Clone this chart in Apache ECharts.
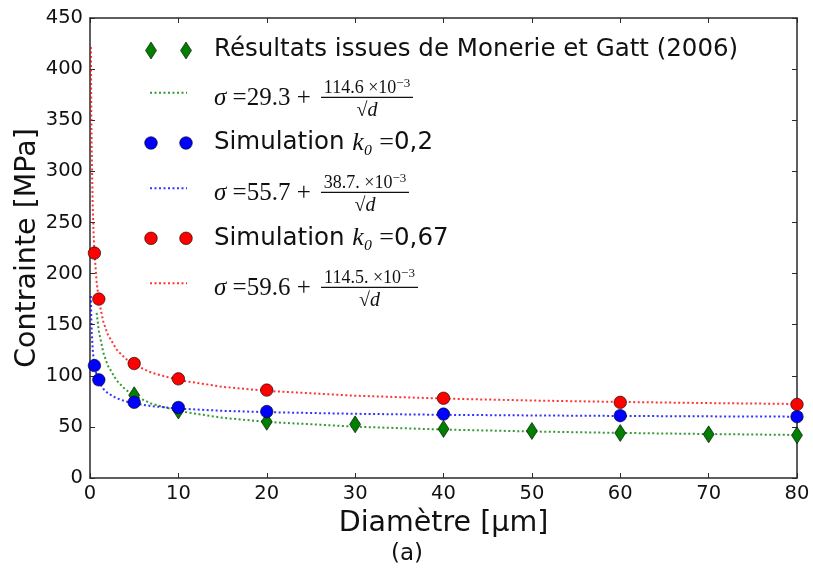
<!DOCTYPE html>
<html>
<head>
<meta charset="utf-8">
<script src="https://cdn.jsdelivr.net/npm/echarts@6/dist/echarts.min.js"></script>
<style>
html,body{margin:0;padding:0;background:#fff;}
#chart{width:813px;height:583px;}
</style>
</head>
<body>
<div id="chart"></div>
<script>
// ---- data ----
var xTicks = [0, 10, 20, 30, 40, 50, 60, 70, 80];
var yTicks = [0, 50, 100, 150, 200, 250, 300, 350, 400, 450];

// Monerie et Gatt (2006) results
var monerieD = [5, 10, 20, 30, 40, 50, 60, 70, 80];
var monerieS = [81, 66, 55, 52.5, 48, 46, 44, 42.7, 41.8];

// Simulation k0 = 0,2
var simBlueD = [0.5, 1, 5, 10, 20, 40, 60, 80];
var simBlueS = [110, 96, 74, 69, 65, 62.5, 61, 60];

// Simulation k0 = 0,67
var simRedD = [0.5, 1, 5, 10, 20, 40, 60, 80];
var simRedS = [220, 175, 112, 97, 86, 78, 74, 72];

// fitted curves (dotted)
var fitD      = [0.1, 0.15, 0.2, 0.3, 0.4, 0.5, 0.75, 1, 1.5, 2, 3, 4, 5, 7, 10, 15, 20, 30, 40, 50, 60, 70, 80];
var fitRedS   = [421.7, 355.2, 315.6, 268.7, 240.6, 221.5, 191.8, 174.1, 153.1, 140.6, 125.7, 116.9, 110.8, 102.9, 95.8, 89.2, 85.2, 80.5, 77.7, 75.8, 74.4, 73.3, 72.4];
var fitBlueS  = [178.1, 155.6, 142.2, 126.4, 116.9, 110.4, 100.4, 94.4, 87.3, 83.1, 78.0, 75.1, 73.0, 70.3, 67.9, 65.7, 64.4, 62.8, 61.8, 61.2, 60.7, 60.3, 60.0];
var fitGreenD = [0.75, 1, 1.5, 2, 3, 4, 5, 7, 10, 15, 20, 30, 40, 50, 60, 70, 80];
var fitGreenS = [161.6, 143.9, 122.9, 110.3, 95.5, 86.6, 80.5, 72.6, 65.5, 58.9, 54.9, 50.2, 47.4, 45.5, 44.1, 43.0, 42.1];

var legendLabels = {
  monerie: 'Résultats issues de Monerie et Gatt (2006)',
  green: ['29.3', '114.6', '114.6 ×10'],
  blue:  ['55.7', '38.7.', '38.7. ×10'],
  red:   ['59.6', '114.5.', '114.5. ×10'],
  simBlue: '0,2',
  simRed: '0,67'
};

function pairs(xs, ys) { return xs.map(function (x, i) { return [x, ys[i]]; }); }

var GREEN = '#007f00', BLUE = '#0000ff', RED = '#ff0000';
var DOT = [2, 2.5];

var chart = echarts.init(document.getElementById('chart'), null, {renderer: 'canvas'});

var axisLine = {show: true, onZero: false, lineStyle: {color: '#2a2a2a', width: 1.5}};
var tick = {show: true, inside: true, length: 5, lineStyle: {color: '#2a2a2a', width: 1}};
var lblStyle = {fontFamily: 'DejaVu Sans', fontSize: 19.5, color: '#111'};

// ---- legend drawn with graphic elements ----
var LX1 = 151, LX2 = 186, TX = 214;
var serif = 'Liberation Serif';
function markerRow(y, kind, color) {
  var out = [];
  [LX1, LX2].forEach(function (x) {
    if (kind === 'diamond') {
      out.push({type: 'polygon', shape: {points: [[x, y - 8.5], [x + 5.5, y], [x, y + 8.5], [x - 5.5, y]]},
        style: {fill: color, stroke: '#000', lineWidth: 0.6}});
    } else {
      out.push({type: 'circle', shape: {cx: x, cy: y, r: 6.3}, style: {fill: color, stroke: '#000', lineWidth: 0.6}});
    }
  });
  return out;
}
function lineRow(y, color) {
  return [{type: 'line', shape: {x1: LX1 - 1, y1: y, x2: LX2 + 1, y2: y},
    style: {stroke: color, lineWidth: 2, lineDash: DOT, opacity: 0.8}}];
}
function formulaRow(bar, a, num, barEnd) {
  var items = [];
  items.push({type: 'text', x: TX, y: bar + 1, style: {
    text: '{i|σ}{r| =' + a + ' +}', verticalAlign: 'middle', align: 'left',
    rich: {i: {fontFamily: serif, fontStyle: 'italic', fontSize: 25, fill: '#111'},
           r: {fontFamily: serif, fontSize: 25, fill: '#111'}}}});
  var cx = (321 + barEnd) / 2;
  items.push({type: 'text', x: cx, y: bar - 10, style: {
    text: '{n|' + num + '}{s|−3}', align: 'center', verticalAlign: 'middle',
    rich: {n: {fontFamily: serif, fontSize: 18, fill: '#111', verticalAlign: 'bottom', lineHeight: 20},
           s: {fontFamily: serif, fontSize: 13, fill: '#111', verticalAlign: 'top', lineHeight: 20}}}});
  items.push({type: 'line', shape: {x1: 321, y1: bar, x2: barEnd, y2: bar}, style: {stroke: '#111', lineWidth: 1.2}});
  items.push({type: 'text', x: cx, y: bar + 13, style: {
    text: '{r|√}{i|d}', align: 'center', verticalAlign: 'middle',
    rich: {r: {fontFamily: serif, fontSize: 20, fill: '#111'},
           i: {fontFamily: serif, fontStyle: 'italic', fontSize: 20, fill: '#111'}}}});
  return items;
}
function simText(y, val) {
  return [{type: 'text', x: TX, y: y, style: {
    text: '{s|Simulation }{k|k₀}{m| =}{s|' + val + '}', verticalAlign: 'middle', align: 'left',
    rich: {s: {fontFamily: 'DejaVu Sans', fontSize: 24.5, fill: '#111'},
           k: {fontFamily: serif, fontStyle: 'italic', fontSize: 26, fill: '#111'},
           m: {fontFamily: serif, fontSize: 26, fill: '#111'}}}}];
}

var graphics = [].concat(
  markerRow(50.5, 'diamond', GREEN),
  [{type: 'text', x: TX, y: 50, style: {text: legendLabels.monerie, fontFamily: 'DejaVu Sans', fontSize: 24.5,
    fill: '#111', verticalAlign: 'middle'}}],
  lineRow(92.7, GREEN),
  formulaRow(97.3, legendLabels.green[0], legendLabels.green[2], 413),
  markerRow(143, 'circle', BLUE),
  simText(143, legendLabels.simBlue),
  lineRow(188.3, BLUE),
  formulaRow(192.3, legendLabels.blue[0], legendLabels.blue[2], 409),
  markerRow(238.3, 'circle', RED),
  simText(238.3, legendLabels.simRed),
  lineRow(283.3, RED),
  formulaRow(287.3, legendLabels.red[0], legendLabels.red[2], 418),
  [{type: 'text', x: 407, y: 554, style: {text: '(a)', fontFamily: 'DejaVu Sans', fontSize: 23, fill: '#111',
    align: 'center', verticalAlign: 'middle'}}]
);

var option = {
  animation: false,
  backgroundColor: '#fff',
  grid: {left: 90, right: 16, top: 18, bottom: 105, containLabel: false},
  xAxis: [
    {type: 'value', min: 0, max: 80, interval: 10, position: 'bottom',
     axisLine: axisLine, axisTick: tick, splitLine: {show: false},
     axisLabel: Object.assign({margin: 6}, lblStyle),
     name: 'Diamètre [μm]', nameLocation: 'middle', nameGap: 30,
     nameTextStyle: {fontFamily: 'DejaVu Sans', fontSize: 28.5, color: '#111'}},
    {type: 'value', min: 0, max: 80, interval: 10, position: 'top',
     axisLine: axisLine, axisTick: tick, splitLine: {show: false}, axisLabel: {show: false}}
  ],
  yAxis: [
    {type: 'value', min: 0, max: 450, interval: 50, position: 'left',
     axisLine: axisLine, axisTick: tick, splitLine: {show: false},
     axisLabel: Object.assign({margin: 7}, lblStyle),
     name: 'Contrainte [MPa]', nameLocation: 'middle', nameGap: 48, nameMoveOverlap: false,
     nameTextStyle: {fontFamily: 'DejaVu Sans', fontSize: 28.5, color: '#111'}},
    {type: 'value', min: 0, max: 450, interval: 50, position: 'right',
     axisLine: axisLine, axisTick: tick, splitLine: {show: false}, axisLabel: {show: false}}
  ],
  series: [
    {name: 'fitGreen', type: 'line', data: pairs(fitGreenD, fitGreenS), showSymbol: false, z: 2,
     lineStyle: {color: GREEN, width: 2, type: DOT, opacity: 0.8}},
    {name: 'fitBlue', type: 'line', data: pairs(fitD, fitBlueS), showSymbol: false, z: 2,
     lineStyle: {color: BLUE, width: 2, type: DOT, opacity: 0.8}},
    {name: 'fitRed', type: 'line', data: pairs(fitD, fitRedS), showSymbol: false, z: 2,
     lineStyle: {color: RED, width: 2, type: DOT, opacity: 0.8}},
    {name: 'monerie', type: 'scatter', data: pairs(monerieD, monerieS), symbol: 'diamond', symbolSize: [11, 17], z: 3,
     itemStyle: {color: GREEN, borderColor: '#000', borderWidth: 0.6, opacity: 1}},
    {name: 'simBlue', type: 'scatter', data: pairs(simBlueD, simBlueS), symbol: 'circle', symbolSize: 12.5, z: 4,
     itemStyle: {color: BLUE, borderColor: '#000', borderWidth: 0.6, opacity: 1}},
    {name: 'simRed', type: 'scatter', data: pairs(simRedD, simRedS), symbol: 'circle', symbolSize: 12.5, z: 5,
     itemStyle: {color: RED, borderColor: '#000', borderWidth: 0.6, opacity: 1}}
  ],
  graphic: graphics
};
chart.setOption(option);
</script>
</body>
</html>
